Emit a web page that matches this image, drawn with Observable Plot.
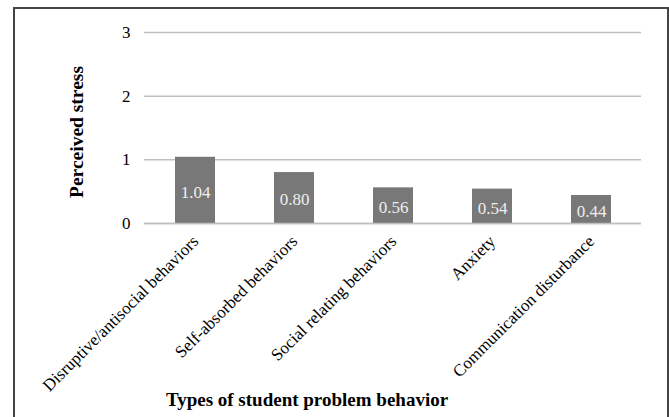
<!DOCTYPE html>
<html>
<head>
<meta charset="utf-8">
<script src="https://cdn.jsdelivr.net/npm/d3@7"></script>
<script src="https://cdn.jsdelivr.net/npm/@observablehq/plot@0.6"></script>
<style>
  html, body { margin: 0; padding: 0; background: #fff; }
  #wrap { position: relative; width: 669px; height: 417px; overflow: hidden; }
  #border { position: absolute; left: 13px; top: 7px; width: 652px; height: 420px;
            border: 2px solid #444; border-bottom: none; box-sizing: content-box; }
  #chart { position: absolute; left: 0; top: 0; }
  #chart text { font-family: 'Liberation Serif', 'Times New Roman', serif; }
</style>
</head>
<body>
<div id="wrap">
  <div id="border"></div>
  <div id="chart"></div>
</div>
<script>
const categories = [
  "Disruptive/antisocial behaviors",
  "Self-absorbed behaviors",
  "Social relating behaviors",
  "Anxiety",
  "Communication disturbance"
];
const values = [1.04, 0.80, 0.56, 0.54, 0.44];
const yTicks = [0, 1, 2, 3];
const yTitle = "Perceived stress";
const xTitle = "Types of student problem behavior";

const data = categories.map((c, i) => ({category: c, value: values[i]}));

const font = "'Liberation Serif', 'Times New Roman', serif";

const chart = Plot.plot({
  width: 669,
  height: 417,
  marginLeft: 144,
  marginRight: 28,
  marginTop: 32,
  marginBottom: 194,
  style: {fontFamily: font, fontSize: "17px", color: "#000", background: "transparent", overflow: "visible"},
  x: {domain: categories, paddingInner: 0.6, paddingOuter: 0.3, label: null},
  y: {domain: [0, 3], ticks: yTicks, label: null},
  marks: [
    Plot.gridY(yTicks, {stroke: "#bfbfbf", strokeOpacity: 1, strokeWidth: 1.5}),
    Plot.barY(data, {x: "category", y: "value", fill: "#787878"}),
    Plot.ruleY([0], {stroke: "#bfbfbf", strokeWidth: 1.5}),
    Plot.text(data, {x: "category", y: d => d.value / 2, text: d => d.value.toFixed(2),
      fill: "#eeeeee", fontSize: 17, fontFamily: font, dy: 2}),
    Plot.axisY({ticks: yTicks, tickSize: 0, tickPadding: 14, label: null, fontSize: 17, fontFamily: font, tickFormat: d => String(d)}),
    Plot.axisX({tickSize: 0, tickPadding: 15, tickRotate: -45, label: null, fontSize: 17, fontFamily: font}),
    Plot.text([yTitle], {frameAnchor: "left", textAnchor: "middle", dx: -68, dy: 4, rotate: -90,
      fontWeight: "bold", fontSize: 19.5, fontFamily: font, fill: "#000"}),
    Plot.text([xTitle], {frameAnchor: "bottom", dx: -86, dy: 182,
      fontWeight: "bold", fontSize: 19, fontFamily: font, fill: "#000"})
  ]
});
document.getElementById("chart").appendChild(chart);
</script>
</body>
</html>
